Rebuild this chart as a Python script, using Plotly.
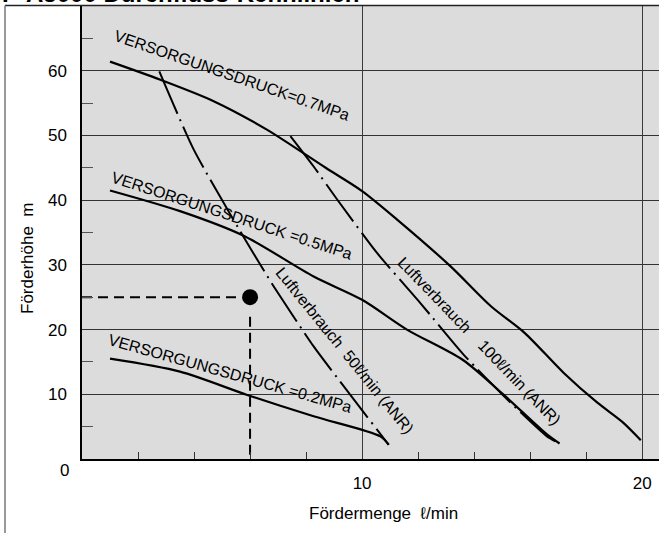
import plotly.graph_objects as go

# ---- data ----
p07_x = [1.0, 2.8, 4.7, 6.6, 8.7, 10.0, 11.25, 13.15, 14.6, 15.8, 17.2, 18.4, 19.3, 19.95]
p07_y = [61.4, 58.6, 55.3, 50.9, 45.0, 41.4, 37.0, 29.8, 23.6, 19.5, 13.3, 8.7, 5.7, 2.9]

p05_x = [1.0, 3.5, 5.77, 8.27, 10.0, 11.6, 13.6, 15.06, 16.6, 17.05]
p05_y = [41.5, 38.3, 34.5, 28.2, 24.6, 20.0, 15.3, 9.9, 3.8, 2.4]

p02_x = [1.0, 3.5, 5.9, 8.27, 10.65, 10.95]
p02_y = [15.5, 13.5, 9.9, 6.6, 3.5, 2.2]

air50_x = [2.76, 3.99, 5.77, 6.84, 8.27, 9.58, 10.95]
air50_y = [59.9, 47.8, 34.3, 26.7, 17.4, 9.9, 2.2]

air100_x = [7.44, 8.27, 9.11, 10.54, 12.08, 13.63, 15.3, 16.6, 17.0]
air100_y = [49.9, 45.2, 40.1, 31.8, 24.1, 16.1, 8.7, 3.5, 2.5]

op_x = 6
op_y = 25

x_ticks = [10, 20]
y_ticks = [10, 20, 30, 40, 50, 60]
x_minor = [2, 4, 6, 8, 12, 14, 16, 18]
y_minor = [5, 15, 25, 35, 45, 55, 65]

labels = [
    ("VERSORGUNGSDRUCK=0.7MPa", 5.37, 59.2, 19),
    ("VERSORGUNGSDRUCK =0.5MPa", 5.34, 37.7, 18),
    ("VERSORGUNGSDRUCK =0.2MPa", 5.30, 13.2, 15.7),
    ("Luftverbrauch  50ℓ/min (ANR)", 9.37, 16.7, 51),
    ("Luftverbrauch    100ℓ/min (ANR)", 14.2, 18.2, 46),
]

FONT = "Liberation Sans, Arial, sans-serif"
DASHDOT = "46px,6px,2px,6px"

fig = go.Figure()

for xs, ys in [(p07_x, p07_y), (p05_x, p05_y), (p02_x, p02_y)]:
    fig.add_trace(go.Scatter(x=xs, y=ys, mode="lines",
                             line=dict(color="black", width=2.2, shape="spline", smoothing=0.8),
                             showlegend=False, hoverinfo="skip"))

for xs, ys in [(air50_x, air50_y), (air100_x, air100_y)]:
    fig.add_trace(go.Scatter(x=xs, y=ys, mode="lines",
                             line=dict(color="black", width=2, dash=DASHDOT, shape="spline", smoothing=0.6),
                             showlegend=False, hoverinfo="skip"))

# operating point with dashed guides
fig.add_trace(go.Scatter(x=[0, op_x - 0.45], y=[op_y, op_y], mode="lines",
                         line=dict(color="black", width=2, dash="10px,6px"),
                         showlegend=False, hoverinfo="skip"))
fig.add_trace(go.Scatter(x=[op_x, op_x], y=[op_y - 3.0, 0], mode="lines",
                         line=dict(color="black", width=2, dash="10px,6px"),
                         showlegend=False, hoverinfo="skip"))
fig.add_trace(go.Scatter(x=[op_x], y=[op_y], mode="markers",
                         marker=dict(color="black", size=16),
                         showlegend=False, hoverinfo="skip"))

annotations = []
for text, x, y, ang in labels:
    annotations.append(dict(x=x, y=y, xref="x", yref="y", text=text, showarrow=False,
                            textangle=ang, font=dict(family=FONT, size=16, color="black"),
                            xanchor="center", yanchor="middle"))

annotations += [
    dict(x=0, y=0, xref="x", yref="y", text="0", showarrow=False, xshift=-18, yshift=-11,
         xanchor="center", yanchor="middle",
         font=dict(family=FONT, size=17, color="black")),
    dict(x=27, y=258, xref="paper", yref="paper", text="Förderhöhe  m", showarrow=False,
         textangle=-90, xanchor="center", yanchor="middle",
         font=dict(family=FONT, size=17, color="black")),
    dict(x=383, y=513, xref="paper", yref="paper", text="Fördermenge  ℓ/min", showarrow=False,
         xanchor="center", yanchor="middle",
         font=dict(family=FONT, size=17, color="black")),
    dict(x=0, y=9, xref="paper", yref="paper", text="<b>P-A5000 Durchfluss-Kennlinien</b>",
         showarrow=False, xanchor="left", yanchor="bottom",
         font=dict(family=FONT, size=24, color="black")),
]

W, H = 659, 533
L, R, T, B = 82, 0, 6, 74
pw, ph = W - L - R, H - T - B

# convert pixel-placed annotations to paper coordinates
for a in annotations:
    if a["xref"] == "paper":
        a["x"] = (a["x"] - L) / pw
        a["y"] = (H - B - a["y"]) / ph

fig.update_layout(
    width=W, height=H,
    margin=dict(l=L, r=R, t=T, b=B, pad=0, autoexpand=False),
    paper_bgcolor="white", plot_bgcolor="#dcdcdc",
    font=dict(family=FONT, size=17, color="black"),
    xaxis=dict(range=[0, 20.6], tickmode="array", tickvals=x_ticks, ticks="", automargin=False,
               showgrid=True, gridcolor="#3a3a3a", gridwidth=1.2, zeroline=False,
               showline=True, linecolor="black", linewidth=1.5,
               ticklabelstandoff=8, tickfont=dict(size=17),
               minor=dict(tickmode="array", tickvals=x_minor, ticks="inside", ticklen=7,
                          tickcolor="#333", tickwidth=1.3, showgrid=False)),
    yaxis=dict(range=[0, 70], tickmode="array", tickvals=y_ticks, ticks="", automargin=False,
               showgrid=True, gridcolor="#333", gridwidth=1.2, zeroline=False,
               showline=True, linecolor="black", linewidth=1.5,
               ticklabelstandoff=10, tickfont=dict(size=17),
               minor=dict(tickmode="array", tickvals=y_minor, ticks="inside", ticklen=11,
                          tickcolor="#555", tickwidth=1.3, showgrid=False)),
    annotations=annotations,
    shapes=[
        dict(type="line", xref="paper", yref="paper", x0=(5 - L) / pw, x1=1.0,
             y0=(H - B - 5.5) / ph, y1=(H - B - 5.5) / ph, line=dict(color="#222", width=1.5)),
        dict(type="line", xref="paper", yref="paper", x0=(5 - L) / pw, x1=(5 - L) / pw,
             y0=(H - B - 5.5) / ph, y1=(H - B - H) / ph, line=dict(color="#777", width=1.5)),
    ],
)

fig.write_html("out.html", config={"displayModeBar": False},
               post_script="document.body.style.margin='0';document.body.style.overflow='hidden';")
